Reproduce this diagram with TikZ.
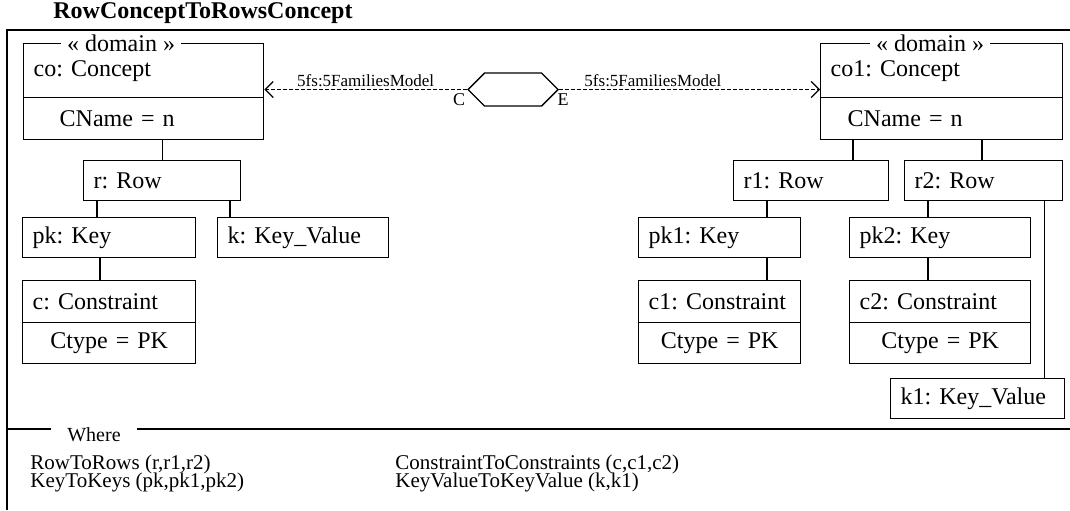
\documentclass[tikz,border=0pt]{standalone}
\usepackage{fontspec}
\setmainfont{Liberation Serif}
\newfontfamily\objfont{Liberation Serif}
\usetikzlibrary{arrows.meta,shapes.symbols}
\frenchspacing
\begin{document}
\begin{tikzpicture}[x=0.5pt,y=-0.5pt,
		obj/.style={draw, line width=0.7pt, anchor=north west, inner xsep=5pt, inner ysep=0pt, minimum height=20pt, align=left, font=\objfont\fontsize{12}{14}\selectfont},
		attr/.style={obj, align=center, minimum height=20.5pt},
		stereo/.style={fill=white, inner xsep=3pt, inner ysep=0pt, font=\objfont\fontsize{12}{14}\selectfont},
		link/.style={line width=0.7pt},
		dep/.style={line width=0.6pt, dash pattern=on 2pt off 1pt, -{Straight Barb[length=4pt,width=8pt]}},
		small/.style={font=\objfont\fontsize{8.5}{10}\selectfont, inner sep=1pt},
		where/.style={font=\objfont\fontsize{10.5}{12}\selectfont, anchor=west, inner sep=0pt}]
	\useasboundingbox (0,0) rectangle (1070,510);
	
	%Frame
	\node (title) [anchor=west, inner sep=0pt, font=\objfont\fontsize{12}{14}\selectfont\bfseries] at (53,13) {RowConceptToRowsConcept};
	\draw[line width=0.9pt] (1070,30) -- (7,30) -- (7,510);
	\draw[line width=0.9pt] (7,429) -- (1070,429);
	
	%Left domain object
	\node (co) [obj, text width=110pt, minimum height=27pt] at (23,43) {co: Concept};
	\node (coA) [obj, text width=110pt, minimum height=21pt] at (23,97) {\hspace*{13pt}CName = n};
	\node (dl) [stereo] at (121,43) {« domain »};
	
	\node (r) [obj, text width=68.5pt] at (83,160) {r: Row};
	\node (pk) [obj, text width=76.5pt] at (22,217) {pk: Key};
	\node (k) [obj, text width=75.5pt] at (217,217) {k: Key\_Value};
	\node (c) [obj, text width=76.5pt, minimum height=21pt] at (22,280) {c: Constraint};
	\node (cA) [attr, text width=76.5pt] at (22,322) {Ctype = PK};
	
	\draw[link] (r.north) -- (r.north |- coA.south);
	\draw[link] ([xshift=7pt]r.south west) -- ([xshift=7pt]r.south west |- pk.north);
	\draw[link] ([xshift=6.5pt]k.north west) -- ([xshift=6.5pt]k.north west |- r.south);
	\draw[link] ([xshift=39pt]pk.south west) -- ([xshift=39pt]pk.south west |- c.north);
	
	%Right domain object
	\node (co1) [obj, text width=111pt, minimum height=27pt] at (820,43) {co1: Concept};
	\node (co1A) [obj, text width=111pt, minimum height=21pt] at (820,97) {\hspace*{8.5pt}CName = n};
	\node (dr) [stereo] at (930,43) {« domain »};
	
	\node (r1) [obj, text width=67.5pt] at (733,160) {r1: Row};
	\node (r2) [obj, text width=69pt] at (904,160) {r2: Row};
	\node (pk1) [obj, text width=71pt] at (638,217) {pk1: Key};
	\node (pk2) [obj, text width=80.5pt] at (849,217) {pk2: Key};
	\node (c1) [obj, text width=71pt, minimum height=21pt] at (638,280) {c1: Constraint};
	\node (c1A) [attr, text width=71pt] at (638,322) {Ctype = PK};
	\node (c2) [obj, text width=80.5pt, minimum height=21pt] at (849,280) {c2: Constraint};
	\node (c2A) [attr, text width=80.5pt] at (849,322) {Ctype = PK};
	\node (k1) [obj, text width=77pt] at (890,378) {k1: Key\_Value};
	
	\draw[link] ([xshift=60pt]r1.north west) -- ([xshift=60pt]r1.north west |- co1A.south);
	\draw[link] ([xshift=39pt]r2.north west) -- ([xshift=39pt]r2.north west |- co1A.south);
	\draw[link] ([xshift=17pt]r1.south west) -- ([xshift=17pt]r1.south west |- pk1.north);
	\draw[link] ([xshift=64.5pt]pk1.south west) -- ([xshift=64.5pt]pk1.south west |- c1.north);
	\draw[link] ([xshift=12pt]r2.south west) -- ([xshift=12pt]r2.south west |- pk2.north);
	\draw[link] ([xshift=39.5pt]pk2.south west) -- ([xshift=39.5pt]pk2.south west |- c2.north);
	\draw[link] ([xshift=-9.5pt]r2.south east) -- ([xshift=-9.5pt]r2.south east |- k1.north);
	
	%Relation
	\node (rel) [draw, line width=0.7pt, signal, signal to=east and west, minimum width=45pt, minimum height=16.5pt, inner sep=0pt] at (513,89.5) {};
	\node (lC) [small, font=\objfont\fontsize{9}{10}\selectfont] at (459,100) {C};
	\node (lE) [small, font=\objfont\fontsize{9}{10}\selectfont] at (563,100) {E};
	\draw[dep] (rel.west) -- node[small, above] {5fs:5FamiliesModel} (co.east |- rel.west);
	\draw[dep] (rel.east) -- node[small, above, pos=0.36] {5fs:5FamiliesModel} (co1.west |- rel.east);
	
	%Where clause
	\node (wh) [fill=white, inner xsep=8pt, inner ysep=1pt, font=\objfont\fontsize{10}{12}\selectfont] at (94,435) {Where};
	\node (w1) [where] at (30,464) {RowToRows (r,r1,r2)};
	\node (w2) [where] at (30,482) {KeyToKeys (pk,pk1,pk2)};
	\node (w3) [where] at (395,464) {ConstraintToConstraints (c,c1,c2)};
	\node (w4) [where] at (395,482) {KeyValueToKeyValue (k,k1)};
\end{tikzpicture}
\end{document}
